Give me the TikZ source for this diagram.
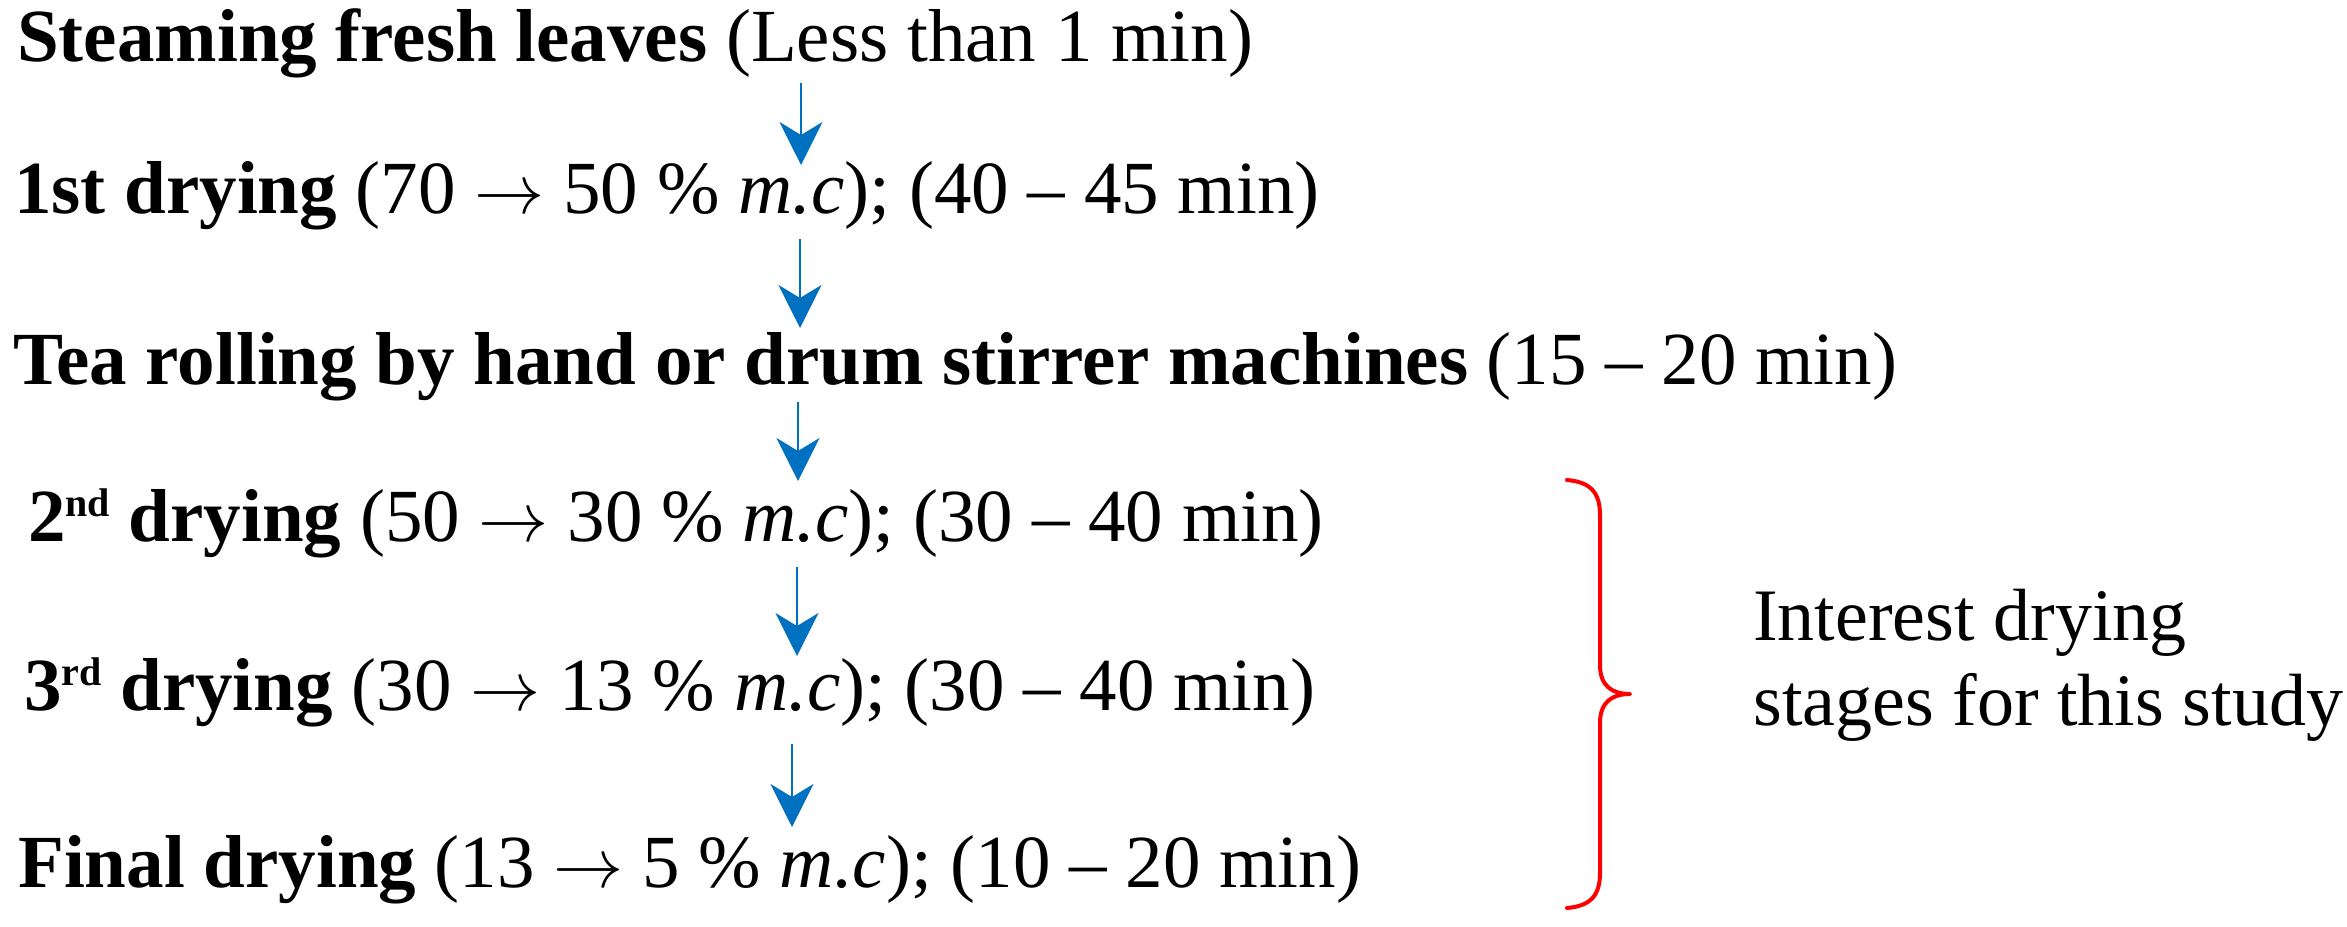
\documentclass[tikz,border=0pt]{standalone}
\usepackage{graphicx}
\usepackage{fontspec}
\setmainfont{Liberation Serif}
\usetikzlibrary{arrows.meta}
\definecolor{arrowblue}{HTML}{0070C0}
\definecolor{bracered}{HTML}{FF0000}
\newcommand{\upord}[1]{\raisebox{25pt}{\fontsize{40}{40}\selectfont\bfseries #1}}
\newcommand{\goesto}{\resizebox{70pt}{!}{$\rightarrow$}}
\tikzset{
  stage/.style={anchor=base west, inner sep=0pt, font=\fontsize{75}{85}\selectfont},
  note/.style={anchor=base west, inner sep=0pt, font=\fontsize{74}{85}\selectfont},
  flow/.style={draw=arrowblue, line width=2pt, -{Stealth[length=43pt, width=43pt, inset=13pt, fill=arrowblue]}},
  brace/.style={draw=bracered, line width=4pt, line cap=round, line join=round}
}
\begin{document}
\begin{tikzpicture}[x=1pt, y=-1pt]
\useasboundingbox (0,0) rectangle (2347,926);
% stages
\node[stage] (l1) at (17,61) {\textbf{Steaming fresh leaves} (Less than 1 min)};
\node[stage] (l2) at (14,213) {\textbf{1st drying} (70 \goesto{} 50 \% \textit{m.c}); (40 – 45 min)};
\node[stage] (l3) at (13,384) {\textbf{Tea rolling by hand or drum stirrer machines} (15 – 20 min)};
\node[stage] (l4) at (28,541) {\textbf{2\upord{nd} drying} (50 \goesto{} 30 \% \textit{m.c}); (30 – 40 min)};
\node[stage] (l5) at (24,710) {\textbf{3\upord{rd} drying} (30 \goesto{} 13 \% \textit{m.c}); (30 – 40 min)};
\node[stage] (l6) at (18,887) {\textbf{Final drying} (13 \goesto{} 5 \% \textit{m.c}); (10 – 20 min)};
% arrow columns
\coordinate (x1) at (801,0);
\coordinate (x2) at (800,0);
\coordinate (x3) at (798,0);
\coordinate (x4) at (797,0);
\coordinate (x5) at (792,0);
\draw[flow] ([yshift=-22pt]l1.base -| x1) -- ([yshift=48pt]l2.base -| x1);
\draw[flow] ([yshift=-26pt]l2.base -| x2) -- ([yshift=56pt]l3.base -| x2);
\draw[flow] ([yshift=-18pt]l3.base -| x3) -- ([yshift=60pt]l4.base -| x3);
\draw[flow] ([yshift=-26pt]l4.base -| x4) -- ([yshift=54pt]l5.base -| x4);
\draw[flow] ([yshift=-34pt]l5.base -| x5) -- ([yshift=60pt]l6.base -| x5);
% brace
\path[brace] (1567,480) .. controls (1590,482) and (1600,492) .. (1600,515)
  -- (1600,665) .. controls (1600,686) and (1612,694) .. (1630,694)
  .. controls (1612,694) and (1600,702) .. (1600,723)
  -- (1600,873) .. controls (1600,896) and (1590,906) .. (1567,908);
% note
\node[note] (n1) at (1753,640) {Interest drying};
\node[note] (n2) at (1753,725) {stages for this study};
\end{tikzpicture}
\end{document}
